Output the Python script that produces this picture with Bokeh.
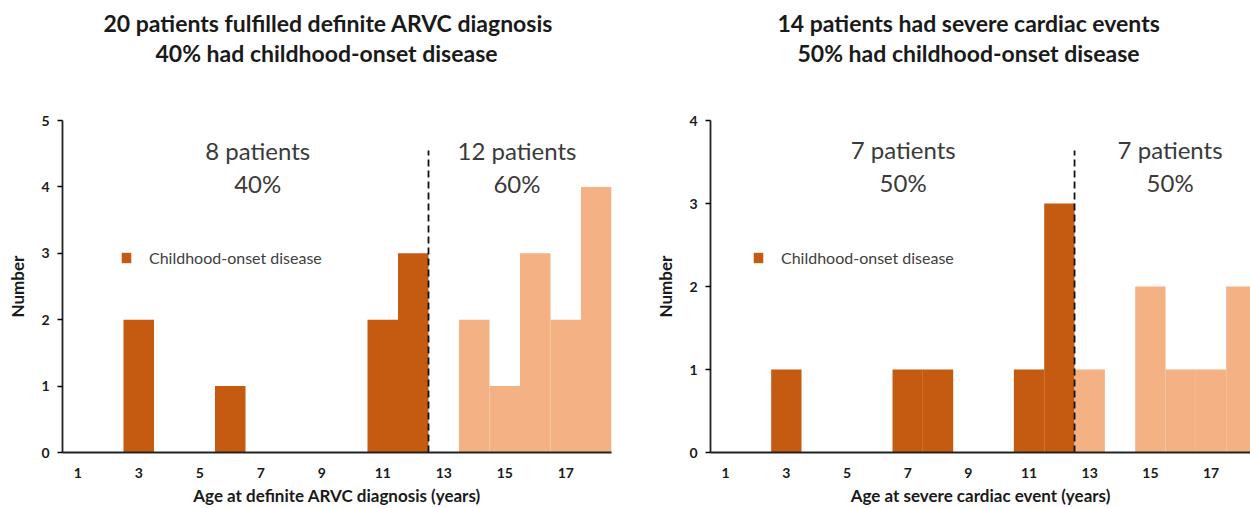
from bokeh.plotting import figure
from bokeh.layouts import row
from bokeh.models import Title, Label, Legend, LegendItem, FixedTicker
from bokeh.embed import file_html
from bokeh.resources import INLINE

# ---------------- data ----------------
diag_child_ages = [3, 6, 11, 12]
diag_child_counts = [2, 1, 2, 3]
diag_adult_ages = [14, 15, 16, 17, 18]
diag_adult_counts = [2, 1, 3, 2, 4]

event_child_ages = [3, 7, 8, 11, 12]
event_child_counts = [1, 1, 1, 1, 3]
event_adult_ages = [13, 15, 16, 17, 18]
event_adult_counts = [1, 2, 1, 1, 2]

x_tick_values = [1, 3, 5, 7, 9, 11, 13, 15, 17]
childhood_cutoff = 12.5

left_titles = ["20 patients fulfilled definite ARVC diagnosis", "40% had childhood-onset  disease"]
right_titles = ["14 patients had severe cardiac events", "50% had childhood-onset  disease"]
left_xlabel = "Age at definite ARVC diagnosis (years)"
right_xlabel = "Age at severe cardiac event (years)"
y_label = "Number"
legend_label = "Childhood-onset disease"

DARK = "#C55A11"
LIGHT = "#F4B183"
FONT = "Lato"
INK = "#1a1a1a"


def make_chart(width, border_left, border_right, x_end, y_end, child_ages, child_counts,
               adult_ages, adult_counts, titles, xlabel, title_offsets, note_pos, legend_x):
    p = figure(width=width, height=508, x_range=(0.5, x_end), y_range=(0, y_end),
               output_backend="svg", toolbar_location=None,
               min_border_left=border_left, min_border_right=border_right,
               min_border_top=120, min_border_bottom=55)
    p.outline_line_color = None
    p.xgrid.visible = False
    p.ygrid.visible = False

    r_child = p.vbar(x=child_ages, top=child_counts, width=1.0, fill_color=DARK, line_color=None)
    p.vbar(x=adult_ages, top=adult_counts, width=1.0, fill_color=LIGHT, line_color=None)

    top = note_pos[2]
    p.segment(x0=[childhood_cutoff], y0=[0], x1=[childhood_cutoff], y1=[top],
              line_color="#111111", line_width=1.8, line_dash="7 4")

    n_child = sum(child_counts)
    n_adult = sum(adult_counts)
    total = n_child + n_adult
    for xc, n in ((note_pos[0], n_child), (note_pos[1], n_adult)):
        p.add_layout(Label(x=xc, y=note_pos[3], text=f"{n} patients", text_align="center",
                           text_baseline="middle", text_font=FONT, text_font_size="24px",
                           text_color="#3a3a3a"))
        p.add_layout(Label(x=xc, y=note_pos[4], text=f"{round(100 * n / total)}%",
                           text_align="center", text_baseline="middle", text_font=FONT,
                           text_font_size="24px", text_color="#3a3a3a"))

    legend = Legend(items=[LegendItem(label=legend_label, renderers=[r_child])],
                    location=(legend_x, 185), padding=0, margin=0, glyph_width=12, glyph_height=13,
                    label_standoff=17, border_line_color=None, background_fill_alpha=0,
                    label_text_font=FONT, label_text_font_size="16px", label_text_color="#404040")
    p.add_layout(legend)

    # spacer between the frame and the two title lines (closest to the frame first)
    p.add_layout(Title(text=" ", text_font_size="10px", standoff=41), "above")
    p.add_layout(Title(text=titles[1], align="left", text_font=FONT, text_font_size="23px",
                       text_font_style="bold", text_color=INK, offset=title_offsets[1],
                       standoff=0, text_line_height=0.9), "above")
    p.add_layout(Title(text=titles[0], align="left", text_font=FONT, text_font_size="23px",
                       text_font_style="bold", text_color=INK, offset=title_offsets[0],
                       standoff=0, text_line_height=1.0), "above")

    xa = p.xaxis[0]
    xa.ticker = FixedTicker(ticks=x_tick_values)
    xa.axis_label = xlabel
    xa.axis_line_width = 1.8
    xa.axis_line_color = "#222222"
    xa.major_tick_out = 0
    xa.major_tick_in = 0
    xa.minor_tick_out = 0
    xa.minor_tick_in = 0
    xa.major_label_standoff = 15
    xa.axis_label_standoff = 4
    xa.major_label_text_font = FONT
    xa.major_label_text_font_style = "bold"
    xa.major_label_text_font_size = "14px"
    xa.major_label_text_color = INK
    xa.axis_label_text_font = FONT
    xa.axis_label_text_font_style = "bold"
    xa.axis_label_text_font_size = "17px"
    xa.axis_label_text_color = INK

    ya = p.yaxis[0]
    ya.ticker = FixedTicker(ticks=list(range(0, y_end + 1)))
    ya.axis_label = y_label
    ya.axis_line_width = 1.8
    ya.axis_line_color = "#222222"
    ya.major_tick_out = 5
    ya.major_tick_in = 0
    ya.major_tick_line_width = 1.5
    ya.minor_tick_out = 0
    ya.minor_tick_in = 0
    ya.major_label_standoff = 8
    ya.axis_label_standoff = 10
    ya.major_label_text_font = FONT
    ya.major_label_text_font_style = "bold"
    ya.major_label_text_font_size = "14px"
    ya.major_label_text_color = INK
    ya.axis_label_text_font = FONT
    ya.axis_label_text_font_style = "bold"
    ya.axis_label_text_font_size = "17px"
    ya.axis_label_text_color = INK
    return p


# note_pos: (x child, x adult, dashed-line top, y of "n patients", y of "%")
p1 = make_chart(630, 62, 19, 18.5, 5, diag_child_ages, diag_child_counts,
                diag_adult_ages, diag_adult_counts, left_titles, left_xlabel, (41, 93),
                (6.9, 15.4, 4.55, 4.55, 4.05), 58)
p2 = make_chart(620, 80, 0, 18.3, 4, event_child_ages, event_child_counts,
                event_adult_ages, event_adult_counts, right_titles, right_xlabel, (67, 87),
                (6.85, 15.65, 3.64, 3.65, 3.25), 42)

layout = row(p1, p2, spacing=0)
open("out.html", "w").write(file_html(layout, INLINE))
